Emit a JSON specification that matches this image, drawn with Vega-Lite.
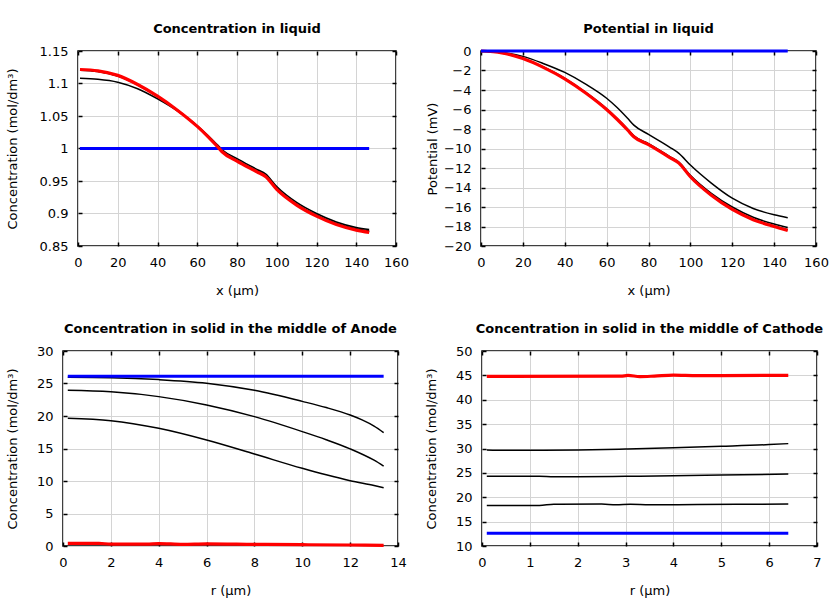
{
  "$schema": "https://vega.github.io/schema/vega-lite/v6.json",
  "padding": {"left": 4, "top": 21, "right": 5, "bottom": 5},
  "background": "white",
  "config": {
    "font": "DejaVu Sans",
    "view": {"stroke": "black", "strokeWidth": 1.5},
    "title": {"font": "DejaVu Sans", "fontSize": 13, "fontWeight": "bold", "color": "black", "offset": 9, "anchor": "middle", "frame": "group"},
    "axis": {
      "labelFont": "DejaVu Sans", "labelFontSize": 13, "labelColor": "black",
      "titleFont": "DejaVu Sans", "titleFontSize": 13, "titleFontWeight": "normal", "titleColor": "black",
      "gridColor": "#d4d4d4", "gridWidth": 1, "gridOpacity": 1,
      "tickColor": "black", "tickSize": -4, "tickWidth": 1.5,
      "domain": false, "labelOverlap": false, "labelFlush": false
    },
    "axisX": {"labelPadding": 14, "titlePadding": 15},
    "axisY": {"labelPadding": 14, "titlePadding": 19},
    "line": {"interpolate": "monotone", "clip": false}
  },
  "datasets": {
    "cl": [
      {"x": 1, "v": 1.0, "s": "t0"}, {"x": 146.5, "v": 1.0, "s": "t0"},
      {"x": 1, "v": 1.108, "s": "t1"}, {"x": 10, "v": 1.1065, "s": "t1"}, {"x": 20, "v": 1.102, "s": "t1"}, {"x": 30, "v": 1.092, "s": "t1"}, {"x": 40, "v": 1.0765, "s": "t1"}, {"x": 50, "v": 1.058, "s": "t1"}, {"x": 60, "v": 1.035, "s": "t1"}, {"x": 65, "v": 1.021, "s": "t1"}, {"x": 70, "v": 1.006, "s": "t1"}, {"x": 73, "v": 0.997, "s": "t1"}, {"x": 80, "v": 0.9845, "s": "t1"}, {"x": 90, "v": 0.968, "s": "t1"}, {"x": 94.5, "v": 0.9605, "s": "t1"}, {"x": 100, "v": 0.9415, "s": "t1"}, {"x": 110, "v": 0.917, "s": "t1"}, {"x": 120, "v": 0.9, "s": "t1"}, {"x": 130, "v": 0.887, "s": "t1"}, {"x": 140, "v": 0.8785, "s": "t1"}, {"x": 146.5, "v": 0.8755, "s": "t1"},
      {"x": 1, "v": 1.1205, "s": "t2"}, {"x": 10, "v": 1.1185, "s": "t2"}, {"x": 20, "v": 1.1115, "s": "t2"}, {"x": 30, "v": 1.098, "s": "t2"}, {"x": 40, "v": 1.08, "s": "t2"}, {"x": 50, "v": 1.059, "s": "t2"}, {"x": 60, "v": 1.0345, "s": "t2"}, {"x": 70, "v": 1.0045, "s": "t2"}, {"x": 72.5, "v": 0.9965, "s": "t2"}, {"x": 80, "v": 0.982, "s": "t2"}, {"x": 90, "v": 0.9655, "s": "t2"}, {"x": 94.5, "v": 0.958, "s": "t2"}, {"x": 100, "v": 0.9385, "s": "t2"}, {"x": 110, "v": 0.9145, "s": "t2"}, {"x": 120, "v": 0.8975, "s": "t2"}, {"x": 130, "v": 0.8845, "s": "t2"}, {"x": 140, "v": 0.8765, "s": "t2"}, {"x": 146.5, "v": 0.8735, "s": "t2"},
      {"x": 1, "v": 1.121, "s": "t3"}, {"x": 10, "v": 1.119, "s": "t3"}, {"x": 20, "v": 1.112, "s": "t3"}, {"x": 30, "v": 1.0985, "s": "t3"}, {"x": 40, "v": 1.0805, "s": "t3"}, {"x": 50, "v": 1.059, "s": "t3"}, {"x": 60, "v": 1.034, "s": "t3"}, {"x": 70, "v": 1.004, "s": "t3"}, {"x": 72.5, "v": 0.996, "s": "t3"}, {"x": 80, "v": 0.981, "s": "t3"}, {"x": 90, "v": 0.9645, "s": "t3"}, {"x": 94.5, "v": 0.957, "s": "t3"}, {"x": 100, "v": 0.9375, "s": "t3"}, {"x": 110, "v": 0.9135, "s": "t3"}, {"x": 120, "v": 0.8965, "s": "t3"}, {"x": 130, "v": 0.8835, "s": "t3"}, {"x": 140, "v": 0.8755, "s": "t3"}, {"x": 146.5, "v": 0.872, "s": "t3"},
      {"x": 1, "v": 1.1215, "s": "tf"}, {"x": 10, "v": 1.1195, "s": "tf"}, {"x": 20, "v": 1.1125, "s": "tf"}, {"x": 30, "v": 1.0985, "s": "tf"}, {"x": 40, "v": 1.0805, "s": "tf"}, {"x": 50, "v": 1.059, "s": "tf"}, {"x": 60, "v": 1.034, "s": "tf"}, {"x": 65, "v": 1.0195, "s": "tf"}, {"x": 70, "v": 1.0035, "s": "tf"}, {"x": 72.5, "v": 0.995, "s": "tf"}, {"x": 80, "v": 0.9805, "s": "tf"}, {"x": 90, "v": 0.964, "s": "tf"}, {"x": 94.5, "v": 0.9565, "s": "tf"}, {"x": 100, "v": 0.937, "s": "tf"}, {"x": 110, "v": 0.913, "s": "tf"}, {"x": 120, "v": 0.896, "s": "tf"}, {"x": 130, "v": 0.883, "s": "tf"}, {"x": 140, "v": 0.8745, "s": "tf"}, {"x": 146.5, "v": 0.871, "s": "tf"}
    ],
    "pl": [
      {"x": 0, "v": 0, "s": "t0"}, {"x": 146.5, "v": 0, "s": "t0"},
      {"x": 0, "v": 0, "s": "t1"}, {"x": 10, "v": -0.15, "s": "t1"}, {"x": 20, "v": -0.55, "s": "t1"}, {"x": 30, "v": -1.3, "s": "t1"}, {"x": 40, "v": -2.2, "s": "t1"}, {"x": 50, "v": -3.4, "s": "t1"}, {"x": 60, "v": -4.85, "s": "t1"}, {"x": 65, "v": -5.8, "s": "t1"}, {"x": 70, "v": -6.9, "s": "t1"}, {"x": 73, "v": -7.6, "s": "t1"}, {"x": 80, "v": -8.55, "s": "t1"}, {"x": 90, "v": -9.85, "s": "t1"}, {"x": 94.5, "v": -10.5, "s": "t1"}, {"x": 100, "v": -11.7, "s": "t1"}, {"x": 110, "v": -13.55, "s": "t1"}, {"x": 120, "v": -15.1, "s": "t1"}, {"x": 130, "v": -16.15, "s": "t1"}, {"x": 140, "v": -16.8, "s": "t1"}, {"x": 146.5, "v": -17.1, "s": "t1"},
      {"x": 0, "v": 0, "s": "t2"}, {"x": 10, "v": -0.2, "s": "t2"}, {"x": 20, "v": -0.76, "s": "t2"}, {"x": 30, "v": -1.67, "s": "t2"}, {"x": 40, "v": -2.8, "s": "t2"}, {"x": 50, "v": -4.25, "s": "t2"}, {"x": 60, "v": -5.93, "s": "t2"}, {"x": 65, "v": -6.93, "s": "t2"}, {"x": 70, "v": -8.0, "s": "t2"}, {"x": 73, "v": -8.7, "s": "t2"}, {"x": 80, "v": -9.5, "s": "t2"}, {"x": 90, "v": -10.8, "s": "t2"}, {"x": 94.5, "v": -11.4, "s": "t2"}, {"x": 100, "v": -12.75, "s": "t2"}, {"x": 110, "v": -14.6, "s": "t2"}, {"x": 120, "v": -16.0, "s": "t2"}, {"x": 130, "v": -17.05, "s": "t2"}, {"x": 140, "v": -17.75, "s": "t2"}, {"x": 146.5, "v": -18.1, "s": "t2"},
      {"x": 0, "v": 0, "s": "t3"}, {"x": 10, "v": -0.2, "s": "t3"}, {"x": 20, "v": -0.78, "s": "t3"}, {"x": 30, "v": -1.7, "s": "t3"}, {"x": 40, "v": -2.85, "s": "t3"}, {"x": 50, "v": -4.3, "s": "t3"}, {"x": 60, "v": -6.0, "s": "t3"}, {"x": 65, "v": -7.0, "s": "t3"}, {"x": 70, "v": -8.05, "s": "t3"}, {"x": 73, "v": -8.75, "s": "t3"}, {"x": 80, "v": -9.57, "s": "t3"}, {"x": 90, "v": -10.87, "s": "t3"}, {"x": 94.5, "v": -11.47, "s": "t3"}, {"x": 100, "v": -12.87, "s": "t3"}, {"x": 110, "v": -14.75, "s": "t3"}, {"x": 120, "v": -16.2, "s": "t3"}, {"x": 130, "v": -17.25, "s": "t3"}, {"x": 140, "v": -17.95, "s": "t3"}, {"x": 146.5, "v": -18.33, "s": "t3"},
      {"x": 0, "v": 0, "s": "tf"}, {"x": 10, "v": -0.2, "s": "tf"}, {"x": 20, "v": -0.78, "s": "tf"}, {"x": 30, "v": -1.7, "s": "tf"}, {"x": 40, "v": -2.85, "s": "tf"}, {"x": 50, "v": -4.3, "s": "tf"}, {"x": 60, "v": -6.0, "s": "tf"}, {"x": 65, "v": -7.0, "s": "tf"}, {"x": 70, "v": -8.1, "s": "tf"}, {"x": 73, "v": -8.8, "s": "tf"}, {"x": 80, "v": -9.6, "s": "tf"}, {"x": 90, "v": -10.9, "s": "tf"}, {"x": 94.5, "v": -11.5, "s": "tf"}, {"x": 100, "v": -12.9, "s": "tf"}, {"x": 110, "v": -14.8, "s": "tf"}, {"x": 120, "v": -16.25, "s": "tf"}, {"x": 130, "v": -17.3, "s": "tf"}, {"x": 140, "v": -18.0, "s": "tf"}, {"x": 146.5, "v": -18.4, "s": "tf"}
    ],
    "an": [
      {"x": 0.2, "v": 26.1, "s": "t0"}, {"x": 13.4, "v": 26.1, "s": "t0"},
      {"x": 0.2, "v": 25.95, "s": "t1"}, {"x": 2, "v": 25.88, "s": "t1"}, {"x": 4, "v": 25.6, "s": "t1"}, {"x": 6, "v": 25.05, "s": "t1"}, {"x": 8, "v": 23.95, "s": "t1"}, {"x": 10, "v": 22.25, "s": "t1"}, {"x": 11, "v": 21.3, "s": "t1"}, {"x": 12, "v": 20.15, "s": "t1"}, {"x": 12.5, "v": 19.4, "s": "t1"}, {"x": 13, "v": 18.45, "s": "t1"}, {"x": 13.4, "v": 17.45, "s": "t1"},
      {"x": 0.2, "v": 23.95, "s": "t2"}, {"x": 2, "v": 23.72, "s": "t2"}, {"x": 4, "v": 22.98, "s": "t2"}, {"x": 6, "v": 21.7, "s": "t2"}, {"x": 8, "v": 19.9, "s": "t2"}, {"x": 10, "v": 17.6, "s": "t2"}, {"x": 11, "v": 16.35, "s": "t2"}, {"x": 12, "v": 14.95, "s": "t2"}, {"x": 13, "v": 13.2, "s": "t2"}, {"x": 13.4, "v": 12.3, "s": "t2"},
      {"x": 0.2, "v": 19.64, "s": "t3"}, {"x": 2, "v": 19.28, "s": "t3"}, {"x": 4, "v": 18.1, "s": "t3"}, {"x": 6, "v": 16.3, "s": "t3"}, {"x": 8, "v": 14.15, "s": "t3"}, {"x": 10, "v": 11.95, "s": "t3"}, {"x": 11, "v": 10.95, "s": "t3"}, {"x": 12, "v": 10.05, "s": "t3"}, {"x": 13, "v": 9.3, "s": "t3"}, {"x": 13.4, "v": 8.97, "s": "t3"},
      {"x": 0.2, "v": 0.4, "s": "tf"}, {"x": 1.5, "v": 0.4, "s": "tf"}, {"x": 2, "v": 0.3, "s": "tf"}, {"x": 3.5, "v": 0.3, "s": "tf"}, {"x": 4, "v": 0.38, "s": "tf"}, {"x": 5, "v": 0.25, "s": "tf"}, {"x": 6, "v": 0.32, "s": "tf"}, {"x": 8, "v": 0.25, "s": "tf"}, {"x": 10, "v": 0.2, "s": "tf"}, {"x": 12, "v": 0.15, "s": "tf"}, {"x": 13.4, "v": 0.1, "s": "tf"}
    ],
    "ca": [
      {"x": 0.1, "v": 12.6, "s": "t0"}, {"x": 6.4, "v": 12.6, "s": "t0"},
      {"x": 0.1, "v": 29.7, "s": "t1"}, {"x": 0.5, "v": 29.62, "s": "t1"}, {"x": 1, "v": 29.62, "s": "t1"}, {"x": 2, "v": 29.7, "s": "t1"}, {"x": 3, "v": 29.9, "s": "t1"}, {"x": 4, "v": 30.15, "s": "t1"}, {"x": 5, "v": 30.45, "s": "t1"}, {"x": 6, "v": 30.8, "s": "t1"}, {"x": 6.4, "v": 31.0, "s": "t1"},
      {"x": 0.1, "v": 24.3, "s": "t2"}, {"x": 1.2, "v": 24.3, "s": "t2"}, {"x": 1.5, "v": 24.2, "s": "t2"}, {"x": 2, "v": 24.22, "s": "t2"}, {"x": 3, "v": 24.3, "s": "t2"}, {"x": 4, "v": 24.42, "s": "t2"}, {"x": 5, "v": 24.55, "s": "t2"}, {"x": 6.4, "v": 24.75, "s": "t2"},
      {"x": 0.1, "v": 18.3, "s": "t3"}, {"x": 1.2, "v": 18.3, "s": "t3"}, {"x": 1.5, "v": 18.58, "s": "t3"}, {"x": 2.5, "v": 18.6, "s": "t3"}, {"x": 2.8, "v": 18.45, "s": "t3"}, {"x": 3.1, "v": 18.55, "s": "t3"}, {"x": 3.5, "v": 18.45, "s": "t3"}, {"x": 4.5, "v": 18.5, "s": "t3"}, {"x": 6.4, "v": 18.62, "s": "t3"},
      {"x": 0.1, "v": 44.8, "s": "tf"}, {"x": 2.9, "v": 44.85, "s": "tf"}, {"x": 3.05, "v": 44.98, "s": "tf"}, {"x": 3.3, "v": 44.75, "s": "tf"}, {"x": 3.6, "v": 44.85, "s": "tf"}, {"x": 4.0, "v": 45.05, "s": "tf"}, {"x": 4.5, "v": 44.95, "s": "tf"}, {"x": 5.0, "v": 44.95, "s": "tf"}, {"x": 6.4, "v": 45.0, "s": "tf"}
    ]
  },
  "spacing": 24,
  "vconcat": [
    {
      "spacing": 0,
      "hconcat": [
        {"width": 1, "height": 1, "data": {"values": []}, "mark": "point", "view": {"stroke": null}},
        {
          "spacing": 15,
          "hconcat": [
            {
              "title": "Concentration in liquid",
              "width": 318, "height": 195,
              "data": {"name": "cl"},
              "resolve": {"axis": {"x": "independent", "y": "independent"}},
              "layer": [
                {"transform": [{"filter": "datum.s == 't1' || datum.s == 't2' || datum.s == 't3'"}],
                 "mark": {"type": "line", "color": "black", "strokeWidth": 1.5},
                 "encoding": {
                   "x": {"field": "x", "type": "quantitative", "scale": {"domain": [0, 160], "nice": false}, "axis": {"title": "x (µm)", "values": [0, 20, 40, 60, 80, 100, 120, 140, 160], "grid": true}},
                   "y": {"field": "v", "type": "quantitative", "scale": {"domain": [0.85, 1.15], "nice": false, "zero": false}, "axis": {"title": "Concentration (mol/dm³)", "format": "~g", "titlePadding": 20, "values": [0.85, 0.9, 0.95, 1, 1.05, 1.1, 1.15], "grid": true}},
                   "detail": {"field": "s"}
                 }},
                {"transform": [{"filter": "datum.s == 't0'"}],
                 "mark": {"type": "line", "color": "#0000ff", "strokeWidth": 3},
                 "encoding": {
                   "x": {"field": "x", "type": "quantitative", "scale": {"domain": [0, 160], "nice": false}, "axis": {"orient": "top", "title": null, "labels": false, "grid": false, "values": [0, 20, 40, 60, 80, 100, 120, 140, 160]}},
                   "y": {"field": "v", "type": "quantitative", "scale": {"domain": [0.85, 1.15], "nice": false, "zero": false}, "axis": {"orient": "right", "title": null, "labels": false, "grid": false, "values": [0.85, 0.9, 0.95, 1, 1.05, 1.1, 1.15]}}
                 }},
                {"transform": [{"filter": "datum.s == 'tf'"}],
                 "mark": {"type": "line", "color": "#ff0000", "strokeWidth": 3.2},
                 "encoding": {
                   "x": {"field": "x", "type": "quantitative", "scale": {"domain": [0, 160], "nice": false}, "axis": null},
                   "y": {"field": "v", "type": "quantitative", "scale": {"domain": [0.85, 1.15], "nice": false, "zero": false}, "axis": null}
                 }}
              ]
            },
            {
              "title": "Potential in liquid",
              "width": 335, "height": 195,
              "data": {"name": "pl"},
              "resolve": {"axis": {"x": "independent", "y": "independent"}},
              "layer": [
                {"transform": [{"filter": "datum.s == 't1' || datum.s == 't2' || datum.s == 't3'"}],
                 "mark": {"type": "line", "color": "black", "strokeWidth": 1.5},
                 "encoding": {
                   "x": {"field": "x", "type": "quantitative", "scale": {"domain": [0, 160], "nice": false}, "axis": {"title": "x (µm)", "values": [0, 20, 40, 60, 80, 100, 120, 140, 160], "grid": true}},
                   "y": {"field": "v", "type": "quantitative", "scale": {"domain": [-20, 0], "nice": false}, "axis": {"title": "Potential (mV)", "titlePadding": 4, "values": [-20, -18, -16, -14, -12, -10, -8, -6, -4, -2, 0], "grid": true}},
                   "detail": {"field": "s"}
                 }},
                {"transform": [{"filter": "datum.s == 'tf'"}],
                 "mark": {"type": "line", "color": "#ff0000", "strokeWidth": 3.2},
                 "encoding": {
                   "x": {"field": "x", "type": "quantitative", "scale": {"domain": [0, 160], "nice": false}, "axis": {"orient": "top", "title": null, "labels": false, "grid": false, "values": [0, 20, 40, 60, 80, 100, 120, 140, 160]}},
                   "y": {"field": "v", "type": "quantitative", "scale": {"domain": [-20, 0], "nice": false}, "axis": {"orient": "right", "title": null, "labels": false, "grid": false, "values": [-20, -18, -16, -14, -12, -10, -8, -6, -4, -2, 0]}}
                 }},
                {"transform": [{"filter": "datum.s == 't0'"}],
                 "mark": {"type": "line", "color": "#0000ff", "strokeWidth": 3},
                 "encoding": {
                   "x": {"field": "x", "type": "quantitative", "scale": {"domain": [0, 160], "nice": false}, "axis": null},
                   "y": {"field": "v", "type": "quantitative", "scale": {"domain": [-20, 0], "nice": false}, "axis": null}
                 }}
              ]
            }
          ]
        }
      ]
    },
    {
      "spacing": 0,
      "hconcat": [
        {"width": 1, "height": 1, "data": {"values": []}, "mark": "point", "view": {"stroke": null}},
        {
          "spacing": 16,
          "hconcat": [
            {
              "title": "Concentration in solid in the middle of Anode",
              "width": 335, "height": 195,
              "data": {"name": "an"},
              "resolve": {"axis": {"x": "independent", "y": "independent"}},
              "layer": [
                {"transform": [{"filter": "datum.s == 't1' || datum.s == 't2' || datum.s == 't3'"}],
                 "mark": {"type": "line", "color": "black", "strokeWidth": 1.5},
                 "encoding": {
                   "x": {"field": "x", "type": "quantitative", "scale": {"domain": [0, 14], "nice": false}, "axis": {"title": "r (µm)", "values": [0, 2, 4, 6, 8, 10, 12, 14], "grid": true}},
                   "y": {"field": "v", "type": "quantitative", "scale": {"domain": [0, 30], "nice": false}, "axis": {"title": "Concentration (mol/dm³)", "titlePadding": 17, "values": [0, 5, 10, 15, 20, 25, 30], "grid": true}},
                   "detail": {"field": "s"}
                 }},
                {"transform": [{"filter": "datum.s == 't0'"}],
                 "mark": {"type": "line", "color": "#0000ff", "strokeWidth": 3},
                 "encoding": {
                   "x": {"field": "x", "type": "quantitative", "scale": {"domain": [0, 14], "nice": false}, "axis": {"orient": "top", "title": null, "labels": false, "grid": false, "values": [0, 2, 4, 6, 8, 10, 12, 14]}},
                   "y": {"field": "v", "type": "quantitative", "scale": {"domain": [0, 30], "nice": false}, "axis": {"orient": "right", "title": null, "labels": false, "grid": false, "values": [0, 5, 10, 15, 20, 25, 30]}}
                 }},
                {"transform": [{"filter": "datum.s == 'tf'"}],
                 "mark": {"type": "line", "color": "#ff0000", "strokeWidth": 3.2},
                 "encoding": {
                   "x": {"field": "x", "type": "quantitative", "scale": {"domain": [0, 14], "nice": false}, "axis": null},
                   "y": {"field": "v", "type": "quantitative", "scale": {"domain": [0, 30], "nice": false}, "axis": null}
                 }}
              ]
            },
            {
              "title": "Concentration in solid in the middle of Cathode",
              "width": 335, "height": 195,
              "data": {"name": "ca"},
              "resolve": {"axis": {"x": "independent", "y": "independent"}},
              "layer": [
                {"transform": [{"filter": "datum.s == 't1' || datum.s == 't2' || datum.s == 't3'"}],
                 "mark": {"type": "line", "color": "black", "strokeWidth": 1.5},
                 "encoding": {
                   "x": {"field": "x", "type": "quantitative", "scale": {"domain": [0, 7], "nice": false}, "axis": {"title": "r (µm)", "values": [0, 1, 2, 3, 4, 5, 6, 7], "grid": true}},
                   "y": {"field": "v", "type": "quantitative", "scale": {"domain": [10, 50], "nice": false, "zero": false}, "axis": {"title": "Concentration (mol/dm³)", "titlePadding": 17, "values": [10, 15, 20, 25, 30, 35, 40, 45, 50], "grid": true}},
                   "detail": {"field": "s"}
                 }},
                {"transform": [{"filter": "datum.s == 't0'"}],
                 "mark": {"type": "line", "color": "#0000ff", "strokeWidth": 3},
                 "encoding": {
                   "x": {"field": "x", "type": "quantitative", "scale": {"domain": [0, 7], "nice": false}, "axis": {"orient": "top", "title": null, "labels": false, "grid": false, "values": [0, 1, 2, 3, 4, 5, 6, 7]}},
                   "y": {"field": "v", "type": "quantitative", "scale": {"domain": [10, 50], "nice": false, "zero": false}, "axis": {"orient": "right", "title": null, "labels": false, "grid": false, "values": [10, 15, 20, 25, 30, 35, 40, 45, 50]}}
                 }},
                {"transform": [{"filter": "datum.s == 'tf'"}],
                 "mark": {"type": "line", "color": "#ff0000", "strokeWidth": 3.2},
                 "encoding": {
                   "x": {"field": "x", "type": "quantitative", "scale": {"domain": [0, 7], "nice": false}, "axis": null},
                   "y": {"field": "v", "type": "quantitative", "scale": {"domain": [10, 50], "nice": false, "zero": false}, "axis": null}
                 }}
              ]
            }
          ]
        }
      ]
    }
  ]
}
